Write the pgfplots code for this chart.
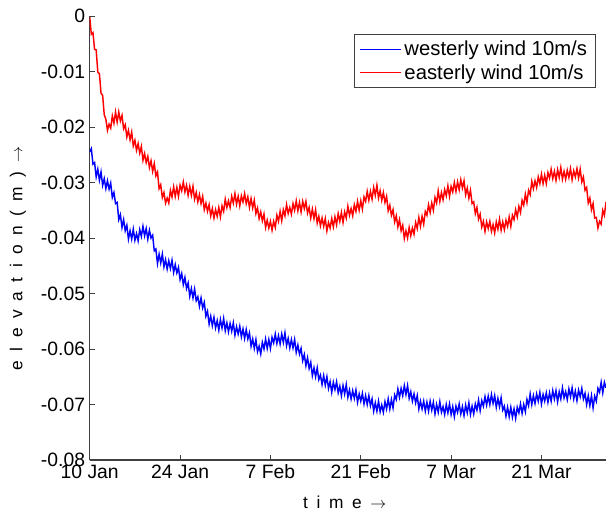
\documentclass[border=0pt]{standalone}
\usepackage{fontspec}
\setmainfont{Liberation Sans}
\usepackage{pgfplots}
\usepackage{pgfplotstable}
\pgfplotsset{compat=1.18}

% sea surface elevation, westerly wind 10 m/s (day since 10 Jan, metres)
\pgfplotstableread[row sep=\\]{
d e \\
0 -0.0245 \\ 0.25 -0.0239 \\ 0.5 -0.0267 \\ 0.75 -0.0264 \\ 1 -0.0290 \\ 1.25 -0.0276 \\ 1.5 -0.0296 \\ 1.75 -0.0281 \\
2 -0.0305 \\ 2.25 -0.0293 \\ 2.5 -0.0311 \\ 2.75 -0.0297 \\ 3 -0.0312 \\ 3.25 -0.0301 \\ 3.5 -0.0327 \\ 3.75 -0.0318 \\
4 -0.0338 \\ 4.25 -0.0336 \\ 4.5 -0.0367 \\ 4.75 -0.0358 \\ 5 -0.0381 \\ 5.25 -0.0367 \\ 5.5 -0.0387 \\ 5.75 -0.0377 \\
6 -0.0402 \\ 6.25 -0.0387 \\ 6.5 -0.0402 \\ 6.75 -0.0384 \\ 7 -0.0404 \\ 7.25 -0.0392 \\ 7.5 -0.0405 \\ 7.75 -0.0385 \\
8 -0.0397 \\ 8.25 -0.0379 \\ 8.5 -0.0396 \\ 8.75 -0.0383 \\ 9 -0.0402 \\ 9.25 -0.0386 \\ 9.5 -0.0400 \\ 9.75 -0.0395 \\
10 -0.0423 \\ 10.25 -0.0420 \\ 10.5 -0.0446 \\ 10.75 -0.0429 \\ 11 -0.0445 \\ 11.25 -0.0429 \\ 11.5 -0.0452 \\ 11.75 -0.0439 \\
12 -0.0456 \\ 12.25 -0.0441 \\ 12.5 -0.0455 \\ 12.75 -0.0440 \\ 13 -0.0462 \\ 13.25 -0.0448 \\ 13.5 -0.0463 \\ 13.75 -0.0453 \\
14 -0.0475 \\ 14.25 -0.0464 \\ 14.5 -0.0484 \\ 14.75 -0.0471 \\ 15 -0.0491 \\ 15.25 -0.0481 \\ 15.5 -0.0505 \\ 15.75 -0.0491 \\
16 -0.0508 \\ 16.25 -0.0492 \\ 16.5 -0.0513 \\ 16.75 -0.0506 \\ 17 -0.0523 \\ 17.25 -0.0508 \\ 17.5 -0.0526 \\ 17.75 -0.0516 \\
18 -0.0541 \\ 18.25 -0.0532 \\ 18.5 -0.0555 \\ 18.75 -0.0541 \\ 19 -0.0558 \\ 19.25 -0.0543 \\ 19.5 -0.0562 \\ 19.75 -0.0549 \\
20 -0.0566 \\ 20.25 -0.0547 \\ 20.5 -0.0562 \\ 20.75 -0.0545 \\ 21 -0.0567 \\ 21.25 -0.0553 \\ 21.5 -0.0569 \\ 21.75 -0.0554 \\
22 -0.0568 \\ 22.25 -0.0553 \\ 22.5 -0.0575 \\ 22.75 -0.0560 \\ 23 -0.0573 \\ 23.25 -0.0559 \\ 23.5 -0.0578 \\ 23.75 -0.0564 \\
24 -0.0581 \\ 24.25 -0.0565 \\ 24.5 -0.0582 \\ 24.75 -0.0571 \\ 25 -0.0595 \\ 25.25 -0.0582 \\ 25.5 -0.0599 \\ 25.75 -0.0583 \\
26 -0.0605 \\ 26.25 -0.0595 \\ 26.5 -0.0609 \\ 26.75 -0.0588 \\ 27 -0.0600 \\ 27.25 -0.0582 \\ 27.5 -0.0599 \\ 27.75 -0.0583 \\
28 -0.0599 \\ 28.25 -0.0579 \\ 28.5 -0.0589 \\ 28.75 -0.0573 \\ 29 -0.0590 \\ 29.25 -0.0576 \\ 29.5 -0.0591 \\ 29.75 -0.0573 \\
30 -0.0588 \\ 30.25 -0.0571 \\ 30.5 -0.0594 \\ 30.75 -0.0581 \\ 31 -0.0598 \\ 31.25 -0.0583 \\ 31.5 -0.0598 \\ 31.75 -0.0583 \\
32 -0.0606 \\ 32.25 -0.0593 \\ 32.5 -0.0609 \\ 32.75 -0.0599 \\ 33 -0.0621 \\ 33.25 -0.0610 \\ 33.5 -0.0630 \\ 33.75 -0.0616 \\
34 -0.0635 \\ 34.25 -0.0624 \\ 34.5 -0.0648 \\ 34.75 -0.0634 \\ 35 -0.0650 \\ 35.25 -0.0634 \\ 35.5 -0.0655 \\ 35.75 -0.0647 \\
36 -0.0664 \\ 36.25 -0.0648 \\ 36.5 -0.0665 \\ 36.75 -0.0650 \\ 37 -0.0671 \\ 37.25 -0.0659 \\ 37.5 -0.0678 \\ 37.75 -0.0660 \\
38 -0.0673 \\ 38.25 -0.0659 \\ 38.5 -0.0679 \\ 38.75 -0.0667 \\ 39 -0.0684 \\ 39.25 -0.0666 \\ 39.5 -0.0681 \\ 39.75 -0.0664 \\
40 -0.0687 \\ 40.25 -0.0674 \\ 40.5 -0.0690 \\ 40.75 -0.0675 \\ 41 -0.0689 \\ 41.25 -0.0674 \\ 41.5 -0.0696 \\ 41.75 -0.0681 \\
42 -0.0694 \\ 42.25 -0.0680 \\ 42.5 -0.0699 \\ 42.75 -0.0684 \\ 43 -0.0700 \\ 43.25 -0.0684 \\ 43.5 -0.0702 \\ 43.75 -0.0690 \\
44 -0.0712 \\ 44.25 -0.0697 \\ 44.5 -0.0712 \\ 44.75 -0.0694 \\ 45 -0.0713 \\ 45.25 -0.0701 \\ 45.5 -0.0714 \\ 45.75 -0.0695 \\
46 -0.0708 \\ 46.25 -0.0690 \\ 46.5 -0.0708 \\ 46.75 -0.0691 \\ 47 -0.0706 \\ 47.25 -0.0683 \\ 47.5 -0.0691 \\ 47.75 -0.0672 \\
48 -0.0687 \\ 48.25 -0.0671 \\ 48.5 -0.0684 \\ 48.75 -0.0666 \\ 49 -0.0682 \\ 49.25 -0.0666 \\ 49.5 -0.0689 \\ 49.75 -0.0677 \\
50 -0.0694 \\ 50.25 -0.0681 \\ 50.5 -0.0697 \\ 50.75 -0.0684 \\ 51 -0.0708 \\ 51.25 -0.0694 \\ 51.5 -0.0708 \\ 51.75 -0.0694 \\
52 -0.0712 \\ 52.25 -0.0696 \\ 52.5 -0.0712 \\ 52.75 -0.0694 \\ 53 -0.0710 \\ 53.25 -0.0696 \\ 53.5 -0.0717 \\ 53.75 -0.0700 \\
54 -0.0714 \\ 54.25 -0.0695 \\ 54.5 -0.0714 \\ 54.75 -0.0704 \\ 55 -0.0718 \\ 55.25 -0.0700 \\ 55.5 -0.0715 \\ 55.75 -0.0699 \\
56 -0.0718 \\ 56.25 -0.0704 \\ 56.5 -0.0722 \\ 56.75 -0.0703 \\ 57 -0.0714 \\ 57.25 -0.0699 \\ 57.5 -0.0717 \\ 57.75 -0.0704 \\
58 -0.0720 \\ 58.25 -0.0701 \\ 58.5 -0.0715 \\ 58.75 -0.0697 \\ 59 -0.0718 \\ 59.25 -0.0703 \\ 59.5 -0.0717 \\ 59.75 -0.0699 \\
60 -0.0710 \\ 60.25 -0.0692 \\ 60.5 -0.0711 \\ 60.75 -0.0693 \\ 61 -0.0703 \\ 61.25 -0.0686 \\ 61.5 -0.0701 \\ 61.75 -0.0685 \\
62 -0.0700 \\ 62.25 -0.0682 \\ 62.5 -0.0698 \\ 62.75 -0.0684 \\ 63 -0.0705 \\ 63.25 -0.0689 \\ 63.5 -0.0704 \\ 63.75 -0.0688 \\
64 -0.0710 \\ 64.25 -0.0703 \\ 64.5 -0.0721 \\ 64.75 -0.0705 \\ 65 -0.0722 \\ 65.25 -0.0705 \\ 65.5 -0.0723 \\ 65.75 -0.0708 \\
66 -0.0725 \\ 66.25 -0.0705 \\ 66.5 -0.0715 \\ 66.75 -0.0699 \\ 67 -0.0716 \\ 67.25 -0.0700 \\ 67.5 -0.0713 \\ 67.75 -0.0691 \\
68 -0.0702 \\ 68.25 -0.0681 \\ 68.5 -0.0700 \\ 68.75 -0.0684 \\ 69 -0.0698 \\ 69.25 -0.0681 \\ 69.5 -0.0694 \\ 69.75 -0.0678 \\
70 -0.0699 \\ 70.25 -0.0682 \\ 70.5 -0.0694 \\ 70.75 -0.0679 \\ 71 -0.0696 \\ 71.25 -0.0679 \\ 71.5 -0.0694 \\ 71.75 -0.0675 \\
72 -0.0690 \\ 72.25 -0.0675 \\ 72.5 -0.0695 \\ 72.75 -0.0677 \\ 73 -0.0690 \\ 73.25 -0.0670 \\ 73.5 -0.0688 \\ 73.75 -0.0677 \\
74 -0.0691 \\ 74.25 -0.0672 \\ 74.5 -0.0686 \\ 74.75 -0.0670 \\ 75 -0.0690 \\ 75.25 -0.0676 \\ 75.5 -0.0693 \\ 75.75 -0.0674 \\
76 -0.0686 \\ 76.25 -0.0671 \\ 76.5 -0.0690 \\ 76.75 -0.0680 \\ 77 -0.0700 \\ 77.25 -0.0684 \\ 77.5 -0.0702 \\ 77.75 -0.0684 \\
78 -0.0706 \\ 78.25 -0.0685 \\ 78.5 -0.0694 \\ 78.75 -0.0671 \\ 79 -0.0678 \\ 79.25 -0.0660 \\ 79.5 -0.0679 \\ 79.75 -0.0660 \\
80 -0.0670 \\
}\westerly

% sea surface elevation, easterly wind 10 m/s
\pgfplotstableread[row sep=\\]{
d e \\
0 -0.0002 \\ 0.25 -0.0033 \\ 0.5 -0.0030 \\ 0.75 -0.0060 \\ 1 -0.0061 \\ 1.25 -0.0101 \\ 1.5 -0.0104 \\ 1.75 -0.0139 \\
2 -0.0143 \\ 2.25 -0.0178 \\ 2.5 -0.0186 \\ 2.75 -0.0206 \\ 3 -0.0195 \\ 3.25 -0.0202 \\ 3.5 -0.0180 \\ 3.75 -0.0193 \\
4 -0.0173 \\ 4.25 -0.0191 \\ 4.5 -0.0173 \\ 4.75 -0.0189 \\ 5 -0.0179 \\ 5.25 -0.0203 \\ 5.5 -0.0196 \\ 5.75 -0.0218 \\
6 -0.0206 \\ 6.25 -0.0223 \\ 6.5 -0.0209 \\ 6.75 -0.0234 \\ 7 -0.0224 \\ 7.25 -0.0242 \\ 7.5 -0.0230 \\ 7.75 -0.0247 \\
8 -0.0235 \\ 8.25 -0.0260 \\ 8.5 -0.0248 \\ 8.75 -0.0264 \\ 9 -0.0253 \\ 9.25 -0.0273 \\ 9.5 -0.0261 \\ 9.75 -0.0280 \\
10 -0.0266 \\ 10.25 -0.0288 \\ 10.5 -0.0281 \\ 10.75 -0.0311 \\ 11 -0.0304 \\ 11.25 -0.0327 \\ 11.5 -0.0318 \\ 11.75 -0.0337 \\
12 -0.0328 \\ 12.25 -0.0337 \\ 12.5 -0.0314 \\ 12.75 -0.0326 \\ 13 -0.0308 \\ 13.25 -0.0325 \\ 13.5 -0.0309 \\ 13.75 -0.0325 \\
14 -0.0305 \\ 14.25 -0.0315 \\ 14.5 -0.0299 \\ 14.75 -0.0317 \\ 15 -0.0305 \\ 15.25 -0.0323 \\ 15.5 -0.0307 \\ 15.75 -0.0323 \\
16 -0.0307 \\ 16.25 -0.0330 \\ 16.5 -0.0318 \\ 16.75 -0.0335 \\ 17 -0.0322 \\ 17.25 -0.0338 \\ 17.5 -0.0325 \\ 17.75 -0.0349 \\
18 -0.0337 \\ 18.25 -0.0352 \\ 18.5 -0.0340 \\ 18.75 -0.0360 \\ 19 -0.0347 \\ 19.25 -0.0364 \\ 19.5 -0.0349 \\ 19.75 -0.0361 \\
20 -0.0345 \\ 20.25 -0.0362 \\ 20.5 -0.0342 \\ 20.75 -0.0352 \\ 21 -0.0330 \\ 21.25 -0.0345 \\ 21.5 -0.0333 \\ 21.75 -0.0345 \\
22 -0.0325 \\ 22.25 -0.0337 \\ 22.5 -0.0320 \\ 22.75 -0.0339 \\ 23 -0.0325 \\ 23.25 -0.0342 \\ 23.5 -0.0324 \\ 23.75 -0.0335 \\
24 -0.0320 \\ 24.25 -0.0338 \\ 24.5 -0.0326 \\ 24.75 -0.0345 \\ 25 -0.0329 \\ 25.25 -0.0346 \\ 25.5 -0.0332 \\ 25.75 -0.0356 \\
26 -0.0346 \\ 26.25 -0.0365 \\ 26.5 -0.0353 \\ 26.75 -0.0369 \\ 27 -0.0357 \\ 27.25 -0.0381 \\ 27.5 -0.0368 \\ 27.75 -0.0382 \\
28 -0.0370 \\ 28.25 -0.0386 \\ 28.5 -0.0370 \\ 28.75 -0.0381 \\ 29 -0.0359 \\ 29.25 -0.0370 \\ 29.5 -0.0352 \\ 29.75 -0.0369 \\
30 -0.0349 \\ 30.25 -0.0360 \\ 30.5 -0.0340 \\ 30.75 -0.0356 \\ 31 -0.0345 \\ 31.25 -0.0357 \\ 31.5 -0.0338 \\ 31.75 -0.0350 \\
32 -0.0333 \\ 32.25 -0.0351 \\ 32.5 -0.0336 \\ 32.75 -0.0353 \\ 33 -0.0334 \\ 33.25 -0.0347 \\ 33.5 -0.0334 \\ 33.75 -0.0355 \\
34 -0.0345 \\ 34.25 -0.0364 \\ 34.5 -0.0348 \\ 34.75 -0.0365 \\ 35 -0.0349 \\ 35.25 -0.0373 \\ 35.5 -0.0361 \\ 35.75 -0.0378 \\
36 -0.0364 \\ 36.25 -0.0379 \\ 36.5 -0.0365 \\ 36.75 -0.0387 \\ 37 -0.0372 \\ 37.25 -0.0382 \\ 37.5 -0.0365 \\ 37.75 -0.0380 \\
38 -0.0362 \\ 38.25 -0.0376 \\ 38.5 -0.0356 \\ 38.75 -0.0370 \\ 39 -0.0354 \\ 39.25 -0.0372 \\ 39.5 -0.0353 \\ 39.75 -0.0364 \\
40 -0.0343 \\ 40.25 -0.0359 \\ 40.5 -0.0347 \\ 40.75 -0.0360 \\ 41 -0.0340 \\ 41.25 -0.0352 \\ 41.5 -0.0334 \\ 41.75 -0.0350 \\
42 -0.0333 \\ 42.25 -0.0348 \\ 42.5 -0.0326 \\ 42.75 -0.0334 \\ 43 -0.0316 \\ 43.25 -0.0332 \\ 43.5 -0.0316 \\ 43.75 -0.0330 \\
44 -0.0309 \\ 44.25 -0.0323 \\ 44.5 -0.0305 \\ 44.75 -0.0328 \\ 45 -0.0315 \\ 45.25 -0.0332 \\ 45.5 -0.0318 \\ 45.75 -0.0336 \\
46 -0.0325 \\ 46.25 -0.0351 \\ 46.5 -0.0341 \\ 46.75 -0.0359 \\ 47 -0.0349 \\ 47.25 -0.0371 \\ 47.5 -0.0360 \\ 47.75 -0.0380 \\
48 -0.0367 \\ 48.25 -0.0387 \\ 48.5 -0.0377 \\ 48.75 -0.0401 \\ 49 -0.0387 \\ 49.25 -0.0400 \\ 49.5 -0.0381 \\ 49.75 -0.0396 \\
50 -0.0382 \\ 50.25 -0.0393 \\ 50.5 -0.0372 \\ 50.75 -0.0383 \\ 51 -0.0363 \\ 51.25 -0.0379 \\ 51.5 -0.0361 \\ 51.75 -0.0375 \\
52 -0.0352 \\ 52.25 -0.0359 \\ 52.5 -0.0340 \\ 52.75 -0.0354 \\ 53 -0.0337 \\ 53.25 -0.0350 \\ 53.5 -0.0327 \\ 53.75 -0.0337 \\
54 -0.0315 \\ 54.25 -0.0334 \\ 54.5 -0.0318 \\ 54.75 -0.0331 \\ 55 -0.0313 \\ 55.25 -0.0324 \\ 55.5 -0.0306 \\ 55.75 -0.0325 \\
56 -0.0307 \\ 56.25 -0.0317 \\ 56.5 -0.0300 \\ 56.75 -0.0316 \\ 57 -0.0299 \\ 57.25 -0.0313 \\ 57.5 -0.0295 \\ 57.75 -0.0310 \\
58 -0.0297 \\ 58.25 -0.0322 \\ 58.5 -0.0310 \\ 58.75 -0.0328 \\ 59 -0.0314 \\ 59.25 -0.0338 \\ 59.5 -0.0335 \\ 59.75 -0.0356 \\
60 -0.0345 \\ 60.25 -0.0366 \\ 60.5 -0.0357 \\ 60.75 -0.0380 \\ 61 -0.0370 \\ 61.25 -0.0388 \\ 61.5 -0.0371 \\ 61.75 -0.0383 \\
62 -0.0370 \\ 62.25 -0.0388 \\ 62.5 -0.0376 \\ 62.75 -0.0391 \\ 63 -0.0371 \\ 63.25 -0.0384 \\ 63.5 -0.0366 \\ 63.75 -0.0386 \\
64 -0.0371 \\ 64.25 -0.0385 \\ 64.5 -0.0368 \\ 64.75 -0.0379 \\ 65 -0.0362 \\ 65.25 -0.0379 \\ 65.5 -0.0359 \\ 65.75 -0.0367 \\
66 -0.0349 \\ 66.25 -0.0362 \\ 66.5 -0.0343 \\ 66.75 -0.0354 \\ 67 -0.0332 \\ 67.25 -0.0341 \\ 67.5 -0.0321 \\ 67.75 -0.0336 \\
68 -0.0314 \\ 68.25 -0.0322 \\ 68.5 -0.0298 \\ 68.75 -0.0311 \\ 69 -0.0297 \\ 69.25 -0.0309 \\ 69.5 -0.0290 \\ 69.75 -0.0302 \\
70 -0.0285 \\ 70.25 -0.0302 \\ 70.5 -0.0287 \\ 70.75 -0.0302 \\ 71 -0.0282 \\ 71.25 -0.0292 \\ 71.5 -0.0276 \\ 71.75 -0.0293 \\
72 -0.0280 \\ 72.25 -0.0296 \\ 72.5 -0.0277 \\ 72.75 -0.0291 \\ 73 -0.0273 \\ 73.25 -0.0294 \\ 73.5 -0.0280 \\ 73.75 -0.0294 \\
74 -0.0278 \\ 74.25 -0.0291 \\ 74.5 -0.0275 \\ 74.75 -0.0295 \\ 75 -0.0279 \\ 75.25 -0.0290 \\ 75.5 -0.0275 \\ 75.75 -0.0292 \\
76 -0.0276 \\ 76.25 -0.0299 \\ 76.5 -0.0290 \\ 76.75 -0.0314 \\ 77 -0.0309 \\ 77.25 -0.0337 \\ 77.5 -0.0328 \\ 77.75 -0.0349 \\
78 -0.0338 \\ 78.25 -0.0364 \\ 78.5 -0.0363 \\ 78.75 -0.0382 \\ 79 -0.0370 \\ 79.25 -0.0375 \\ 79.5 -0.0350 \\ 79.75 -0.0359 \\
80 -0.0335 \\
}\easterly

\newcommand{\ls}{\hspace{7pt}}
\newcommand{\lx}{\hspace{6.5pt}}

\begin{document}
\begin{tikzpicture}
\begin{axis}[
  at={(0pt,0pt)}, anchor=south west,
  scale only axis, width=387.2pt, height=333pt,
  xmin=0, xmax=80, ymin=-0.08, ymax=0,
  scaled y ticks=false,
  axis lines*=left,
  axis line style={black!75, line width=0.8pt},
  tick align=inside,
  major tick length=3.75pt,
  tick style={black!75, line width=0.6pt},
  xtick={0,14,28,42,56,70},
  xticklabels={10 Jan,24 Jan,7 Feb,21 Feb,7 Mar,21 Mar},
  ytick={-0.08,-0.07,-0.06,-0.05,-0.04,-0.03,-0.02,-0.01,0},
  yticklabels={-0.08,-0.07,-0.06,-0.05,-0.04,-0.03,-0.02,-0.01,0},
  tick label style={font=\fontsize{14.5}{16}\selectfont},
  xlabel={t\lx i\lx m\lx e\lx$\rightarrow$},
  ylabel={e\ls l\ls e\ls v\ls a\ls t\ls i\ls o\ls n\ls (\ls m\ls )\ls$\rightarrow$},
  label style={font=\fontsize{13}{15}\selectfont},
  xlabel style={at={(axis description cs:0.494,-0.0946)}, anchor=center},
  ylabel style={at={(axis description cs:-0.139,0.454)}, anchor=center},
  legend style={at={(axis description cs:0.512,0.9595)}, anchor=north west,
    draw=black!75, line width=0.6pt, inner xsep=4pt, inner ysep=3pt,
    font=\fontsize{15.2}{17}\selectfont, row sep=1pt},
  legend cell align=left,
]
\addplot[blue, line width=1.1pt, forget plot] table[x=d, y=e] {\westerly};
\addplot[red, line width=1.1pt, forget plot] table[x=d, y=e] {\easterly};
\addlegendimage{draw=blue, line width=0.8pt, xscale=1.8}
\addlegendentry{westerly wind 10m/s}
\addlegendimage{draw=red, line width=0.8pt, xscale=1.8}
\addlegendentry{easterly wind 10m/s}
\end{axis}
\pgfresetboundingbox
\path[use as bounding box] (-67.3pt,-42pt) rectangle (387.2pt,345pt);
\end{tikzpicture}
\end{document}
